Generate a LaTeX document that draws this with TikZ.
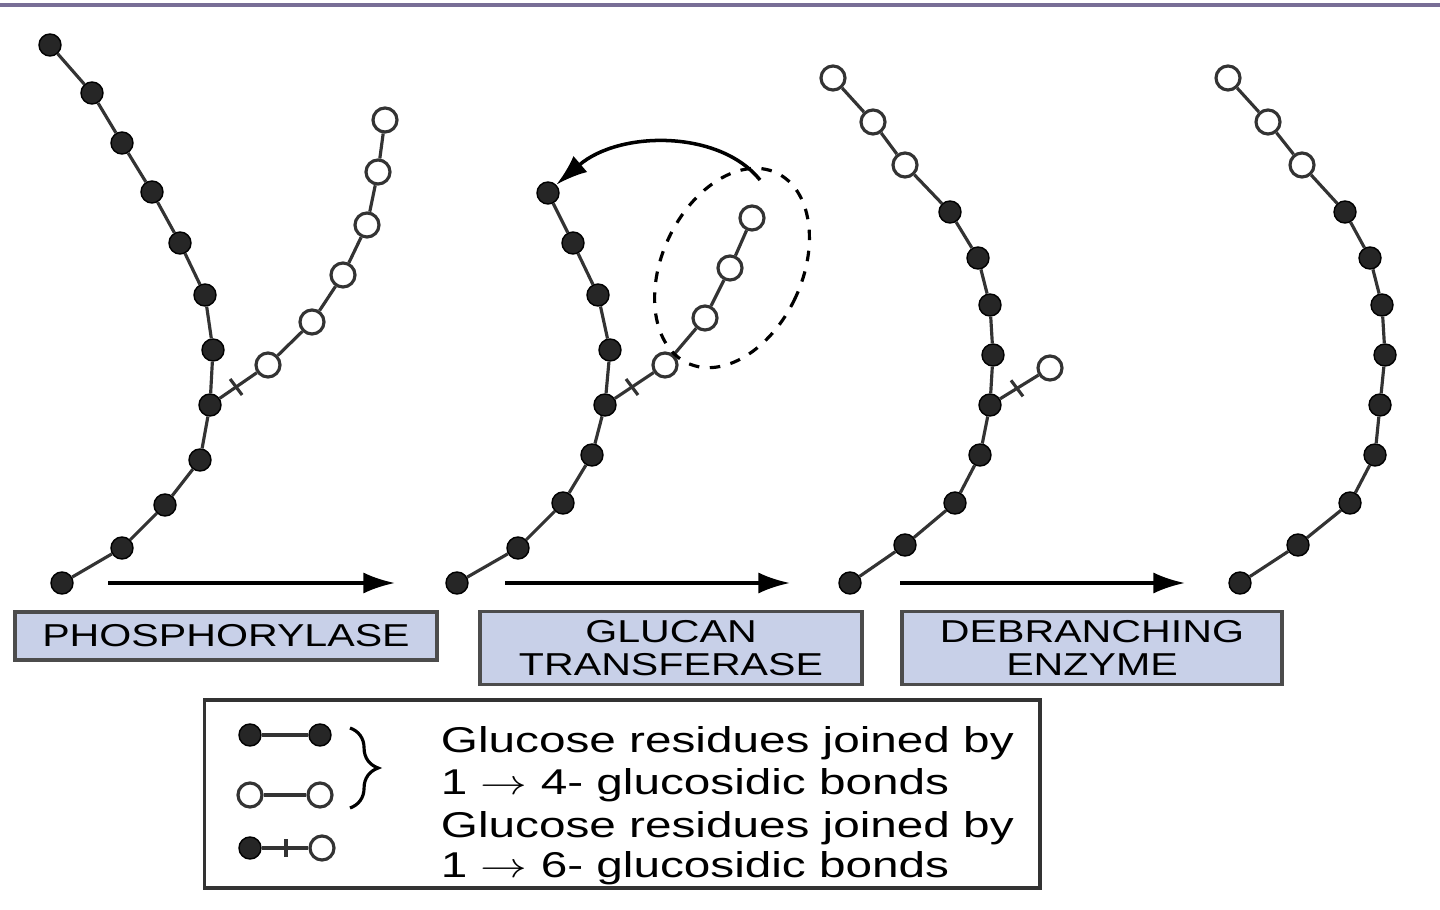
\documentclass[tikz,border=0pt]{standalone}
\usepackage{fontspec}
\setmainfont{Liberation Sans}
\usetikzlibrary{arrows.meta,decorations.pathreplacing,calc}
\definecolor{topline}{RGB}{120,110,150}
\definecolor{labfill}{RGB}{200,208,232}
\begin{document}
\begin{tikzpicture}[x=0.01cm,y=-0.01cm,
 f/.style={circle,fill=black!85,draw=black,inner sep=0pt,minimum size=0.22cm},
 o/.style={circle,fill=white,draw=black!80,line width=0.9pt,inner sep=0pt,minimum size=0.24cm},
 bond/.style={line width=0.9pt,black!80},
 arr/.style={line width=1pt,-{Latex[length=9pt,width=6pt]}},
 lab/.style={draw=black!70,line width=1pt,fill=labfill,align=center},
 labtext/.style={font=\fontsize{9}{8.2}\selectfont,align=center,xscale=1.3,inner sep=0pt}]
\useasboundingbox (0,0) rectangle (1440,910);
\draw[line width=1.2pt,topline] (0,5) -- (1440,5);
% chain 1
\foreach \x/\y [count=\n] in {50/45,92/93,122/143,152/192,180/243,205/295,213/350,210/405,200/460,165/505,122/548,62/583}
  \node[f] (a\n) at (\x,\y) {};
\foreach \x/\y [count=\n] in {268/365,312/322,343/275,367/225,378/172,385/120}
  \node[o] (b\n) at (\x,\y) {};
% chain 2
\foreach \x/\y [count=\n] in {548/193,573/243,598/295,610/350,605/405,592/455,563/503,518/548,457/583}
  \node[f] (c\n) at (\x,\y) {};
\foreach \x/\y [count=\n] in {665/365,705/318,730/268,752/218}
  \node[o] (d\n) at (\x,\y) {};
% chain 3
\foreach \x/\y [count=\n] in {833/78,873/122,905/165}
  \node[o] (e\n) at (\x,\y) {};
\foreach \x/\y [count=\n] in {950/212,978/258,990/305,993/355,990/405,980/455,955/503,905/545,850/583}
  \node[f] (g\n) at (\x,\y) {};
\node[o] (h1) at (1050,368) {};
% chain 4
\foreach \x/\y [count=\n] in {1228/78,1268/122,1302/165}
  \node[o] (k\n) at (\x,\y) {};
\foreach \x/\y [count=\n] in {1345/212,1370/258,1382/305,1385/355,1380/405,1375/455,1350/503,1298/545,1240/583}
  \node[f] (m\n) at (\x,\y) {};
% bonds
\foreach \i [evaluate=\i as \j using int(\i+1)] in {1,...,11} \draw[bond] (a\i) -- (a\j);
\foreach \i [evaluate=\i as \j using int(\i+1)] in {1,...,5} \draw[bond] (b\i) -- (b\j);
\foreach \i [evaluate=\i as \j using int(\i+1)] in {1,...,8} \draw[bond] (c\i) -- (c\j);
\foreach \i [evaluate=\i as \j using int(\i+1)] in {1,...,3} \draw[bond] (d\i) -- (d\j);
\foreach \i [evaluate=\i as \j using int(\i+1)] in {1,...,2} \draw[bond] (e\i) -- (e\j);
\draw[bond] (e3) -- (g1);
\foreach \i [evaluate=\i as \j using int(\i+1)] in {1,...,8} \draw[bond] (g\i) -- (g\j);
\foreach \i [evaluate=\i as \j using int(\i+1)] in {1,...,2} \draw[bond] (k\i) -- (k\j);
\draw[bond] (k3) -- (m1);
\foreach \i [evaluate=\i as \j using int(\i+1)] in {1,...,8} \draw[bond] (m\i) -- (m\j);
% 1-6 branches with cross mark
\foreach \p/\q in {a8/b1,c5/d1,g5/h1}{
  \draw[bond] (\p) -- (\q);
  \draw[bond] ($(\p)!0.45!(\q)$) ++(-6,-8) -- ++(12,16);
}
% dashed ellipse and curved arrow
\draw[dashed,line width=0.9pt] (732,268) ellipse [x radius=70,y radius=105,rotate=-25];
\coordinate (cs) at (760,180);
\draw[line width=1pt,-{Latex[length=9pt,width=6pt]}] (cs) .. controls (720,130) and (620,130) .. (c1.north east);
% arrows
\coordinate (p1) at (108,583); \coordinate (p2) at (395,583);
\coordinate (p3) at (505,583); \coordinate (p4) at (790,583);
\coordinate (p5) at (900,583); \coordinate (p6) at (1185,583);
\draw[arr] (p1) -- (p2); \draw[arr] (p3) -- (p4); \draw[arr] (p5) -- (p6);
% labels
\node[lab,minimum width=4.22cm,minimum height=0.48cm] (L1) at (226,636) {};
\node[labtext] (T1) at (L1) {PHOSPHORYLASE};
\node[lab,minimum width=3.82cm,minimum height=0.73cm] (L2) at (671,648) {};
\node[labtext] (T2) at (L2) {GLUCAN\\[1pt]TRANSFERASE};
\node[lab,minimum width=3.80cm,minimum height=0.73cm] (L3) at (1092,648) {};
\node[labtext] (T3) at (L3) {DEBRANCHING\\[1pt]ENZYME};
% legend
\node[draw=black!80,line width=1pt,minimum width=8.35cm,minimum height=1.88cm] (leg) at (622,794) {};
\node[f] (l1) at (250,735) {}; \node[f] (l2) at (320,735) {};
\node[o] (l3) at (250,795) {}; \node[o] (l4) at (320,795) {};
\node[f] (l5) at (250,848) {}; \node[o] (l6) at (322,848) {};
\draw[bond] (l1) -- (l2); \draw[bond] (l3) -- (l4); \draw[bond] (l5) -- (l6);
\draw[bond] ($(l5)!0.5!(l6)$) ++(0,-9) -- ++(0,18);
\draw[line width=0.9pt,decorate,decoration={brace,amplitude=8pt}] (350,728) -- (350,808);
\begin{scope}[every node/.style={anchor=west,font=\fontsize{10.2}{11}\selectfont,xscale=1.33,inner sep=0pt}]
\node (t1) at (440,743) {Glucose residues joined by};
\node (t2) at (440,785) {1 $\rightarrow$ 4- glucosidic bonds};
\node (t3) at (440,828) {Glucose residues joined by};
\node (t4) at (440,868) {1 $\rightarrow$ 6- glucosidic bonds};
\end{scope}
\end{tikzpicture}
\end{document}
